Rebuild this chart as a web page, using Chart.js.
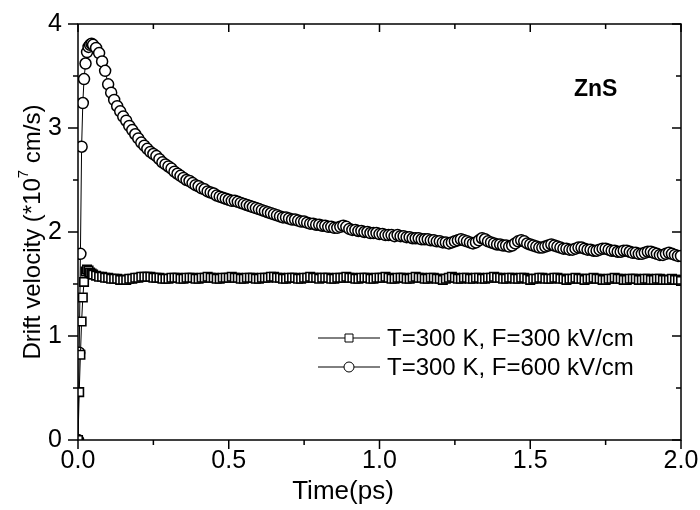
<!DOCTYPE html>
<html>
<head>
<meta charset="utf-8">
<script src="https://cdn.jsdelivr.net/npm/chart.js@4.4.1/dist/chart.umd.min.js"></script>
<style>
  html, body { margin: 0; padding: 0; background: #fff; }
  #chart { display: block; }
</style>
</head>
<body>
<canvas id="chart" width="700" height="510"></canvas>
<script>
// time axis (ps): fine steps during the rise, then 0.01 ps
const times = [0, 0.004, 0.008, 0.012, 0.016, 0.02, 0.025, 0.03, 0.035, 0.04, 0.045, 0.05,
  0.06, 0.07, 0.08, 0.09, 0.10, 0.11, 0.12, 0.13, 0.14, 0.15,
  0.16, 0.17, 0.18, 0.19, 0.20, 0.21, 0.22, 0.23, 0.24, 0.25,
  0.26, 0.27, 0.28, 0.29, 0.30, 0.31, 0.32, 0.33, 0.34, 0.35,
  0.36, 0.37, 0.38, 0.39, 0.40, 0.41, 0.42, 0.43, 0.44, 0.45,
  0.46, 0.47, 0.48, 0.49, 0.50, 0.51, 0.52, 0.53, 0.54, 0.55,
  0.56, 0.57, 0.58, 0.59, 0.60, 0.61, 0.62, 0.63, 0.64, 0.65,
  0.66, 0.67, 0.68, 0.69, 0.70, 0.71, 0.72, 0.73, 0.74, 0.75,
  0.76, 0.77, 0.78, 0.79, 0.80, 0.81, 0.82, 0.83, 0.84, 0.85,
  0.86, 0.87, 0.88, 0.89, 0.90, 0.91, 0.92, 0.93, 0.94, 0.95,
  0.96, 0.97, 0.98, 0.99, 1.00, 1.01, 1.02, 1.03, 1.04, 1.05,
  1.06, 1.07, 1.08, 1.09, 1.10, 1.11, 1.12, 1.13, 1.14, 1.15,
  1.16, 1.17, 1.18, 1.19, 1.20, 1.21, 1.22, 1.23, 1.24, 1.25,
  1.26, 1.27, 1.28, 1.29, 1.30, 1.31, 1.32, 1.33, 1.34, 1.35,
  1.36, 1.37, 1.38, 1.39, 1.40, 1.41, 1.42, 1.43, 1.44, 1.45,
  1.46, 1.47, 1.48, 1.49, 1.50, 1.51, 1.52, 1.53, 1.54, 1.55,
  1.56, 1.57, 1.58, 1.59, 1.60, 1.61, 1.62, 1.63, 1.64, 1.65,
  1.66, 1.67, 1.68, 1.69, 1.70, 1.71, 1.72, 1.73, 1.74, 1.75,
  1.76, 1.77, 1.78, 1.79, 1.80, 1.81, 1.82, 1.83, 1.84, 1.85,
  1.86, 1.87, 1.88, 1.89, 1.90, 1.91, 1.92, 1.93, 1.94, 1.95,
  1.96, 1.97, 1.98, 1.99, 2.00];

// T=300 K, F=300 kV/cm  (squares)
const v300 = [0.00, 0.46, 0.82, 1.14, 1.37, 1.52, 1.62, 1.64, 1.63, 1.61, 1.60, 1.59,
  1.58, 1.57, 1.57, 1.56, 1.56, 1.55, 1.55, 1.55, 1.54, 1.54,
  1.54, 1.55, 1.55, 1.56, 1.56, 1.57, 1.57, 1.57, 1.57, 1.56,
  1.56, 1.56, 1.55, 1.55, 1.55, 1.56, 1.56, 1.56, 1.55, 1.55,
  1.56, 1.56, 1.56, 1.55, 1.55, 1.56, 1.56, 1.57, 1.56, 1.56,
  1.55, 1.55, 1.56, 1.56, 1.56, 1.57, 1.56, 1.56, 1.55, 1.55,
  1.56, 1.56, 1.56, 1.55, 1.55, 1.56, 1.56, 1.56, 1.57, 1.57,
  1.56, 1.56, 1.55, 1.55, 1.56, 1.56, 1.56, 1.55, 1.55, 1.56,
  1.56, 1.57, 1.56, 1.56, 1.55, 1.56, 1.56, 1.56, 1.55, 1.55,
  1.56, 1.56, 1.56, 1.57, 1.56, 1.56, 1.55, 1.55, 1.56, 1.56,
  1.56, 1.55, 1.55, 1.56, 1.56, 1.56, 1.57, 1.56, 1.55, 1.55,
  1.56, 1.56, 1.56, 1.55, 1.55, 1.56, 1.57, 1.56, 1.56, 1.55,
  1.55, 1.56, 1.56, 1.55, 1.55, 1.54, 1.55, 1.56, 1.57, 1.56,
  1.55, 1.55, 1.56, 1.56, 1.55, 1.55, 1.56, 1.56, 1.55, 1.55,
  1.56, 1.56, 1.57, 1.56, 1.56, 1.55, 1.55, 1.56, 1.56, 1.55,
  1.55, 1.56, 1.56, 1.55, 1.54, 1.55, 1.55, 1.56, 1.56, 1.55,
  1.55, 1.55, 1.56, 1.56, 1.55, 1.55, 1.54, 1.55, 1.55, 1.56,
  1.55, 1.55, 1.54, 1.55, 1.55, 1.56, 1.55, 1.55, 1.54, 1.54,
  1.55, 1.55, 1.56, 1.55, 1.55, 1.54, 1.54, 1.55, 1.55, 1.55,
  1.54, 1.54, 1.55, 1.55, 1.54, 1.54, 1.55, 1.55, 1.54, 1.54,
  1.54, 1.55, 1.54, 1.54, 1.53];

// T=300 K, F=600 kV/cm  (circles)
const v600 = [0.00, 0.84, 1.79, 2.82, 3.24, 3.47, 3.62, 3.73, 3.78, 3.80, 3.81, 3.80,
  3.77, 3.72, 3.64, 3.55, 3.42, 3.34, 3.27, 3.21, 3.16, 3.11,
  3.07, 3.02, 2.98, 2.94, 2.90, 2.86, 2.83, 2.80, 2.77, 2.75,
  2.73, 2.70, 2.67, 2.65, 2.63, 2.61, 2.58, 2.56, 2.54, 2.52,
  2.50, 2.49, 2.47, 2.45, 2.44, 2.42, 2.41, 2.39, 2.38, 2.37,
  2.35, 2.34, 2.33, 2.32, 2.31, 2.30, 2.30, 2.29, 2.28, 2.27,
  2.26, 2.25, 2.24, 2.23, 2.22, 2.21, 2.20, 2.19, 2.18, 2.17,
  2.16, 2.15, 2.14, 2.14, 2.13, 2.12, 2.12, 2.11, 2.10, 2.10,
  2.09, 2.08, 2.08, 2.07, 2.07, 2.06, 2.06, 2.05, 2.05, 2.04,
  2.04, 2.05, 2.06, 2.05, 2.03, 2.02, 2.02, 2.01, 2.01, 2.00,
  2.00, 1.99, 1.99, 1.99, 1.98, 1.98, 1.97, 1.97, 1.97, 1.96,
  1.97, 1.96, 1.96, 1.95, 1.95, 1.94, 1.94, 1.94, 1.93, 1.93,
  1.93, 1.92, 1.92, 1.91, 1.91, 1.90, 1.90, 1.89, 1.90, 1.91,
  1.92, 1.93, 1.92, 1.91, 1.90, 1.89, 1.90, 1.92, 1.94, 1.93,
  1.91, 1.90, 1.89, 1.88, 1.88, 1.87, 1.87, 1.86, 1.87, 1.89,
  1.91, 1.92, 1.91, 1.89, 1.88, 1.87, 1.86, 1.85, 1.85, 1.86,
  1.87, 1.88, 1.87, 1.86, 1.85, 1.84, 1.84, 1.83, 1.83, 1.84,
  1.85, 1.85, 1.84, 1.83, 1.83, 1.82, 1.82, 1.83, 1.84, 1.84,
  1.83, 1.82, 1.82, 1.81, 1.81, 1.82, 1.82, 1.81, 1.80, 1.80,
  1.79, 1.79, 1.80, 1.81, 1.81, 1.80, 1.79, 1.78, 1.78, 1.79,
  1.80, 1.79, 1.78, 1.77, 1.77];

const seriesNames = ['T=300 K, F=300 kV/cm', 'T=300 K, F=600 kV/cm'];
const xTicks = [0, 0.5, 1.0, 1.5, 2.0];
const yTicks = [0, 1, 2, 3, 4];
const xMinorStep = 0.25;
const yMinorStep = 0.5;

const FONT = "'Liberation Sans', Arial, sans-serif";
// where the plot frame should sit in the 700x510 canvas
const AREA = { left: 78, top: 24, right: 681, bottom: 440 };

function toPoints(vals) {
  return times.map((t, i) => ({ x: t, y: vals[i] }));
}

// frame with outer ticks on bottom/left and inner ticks on top/right, plus texts
const framePlugin = {
  id: 'frame',
  afterDatasetsDraw(chart) {
    const { ctx, chartArea: a, scales } = chart;
    const xs = scales.x, ys = scales.y;
    ctx.save();
    ctx.strokeStyle = '#000';
    ctx.lineWidth = 1.5;
    ctx.strokeRect(a.left, a.top, a.right - a.left, a.bottom - a.top);
    ctx.beginPath();
    for (let v = xs.min; v <= xs.max + 1e-9; v += xMinorStep) {
      const px = xs.getPixelForValue(v);
      const major = xTicks.some(t => Math.abs(t - v) < 1e-6);
      ctx.moveTo(px, a.bottom); ctx.lineTo(px, a.bottom + (major ? 9 : 5));
      ctx.moveTo(px, a.top); ctx.lineTo(px, a.top + (major ? 8 : 5));
    }
    for (let v = ys.min; v <= ys.max + 1e-9; v += yMinorStep) {
      const py = ys.getPixelForValue(v);
      const major = yTicks.some(t => Math.abs(t - v) < 1e-6);
      ctx.moveTo(a.left, py); ctx.lineTo(a.left - (major ? 10 : 5), py);
      ctx.moveTo(a.right, py); ctx.lineTo(a.right - (major ? 9 : 5), py);
    }
    ctx.stroke();
    ctx.restore();
  },
  afterDraw(chart) {
    const { ctx, chartArea: a } = chart;
    ctx.save();
    ctx.fillStyle = '#000';
    ctx.strokeStyle = '#000';

    // y title with superscript
    const cy = (a.top + a.bottom) / 2;
    const big = '24px ' + FONT, small = '15px ' + FONT;
    const p1 = 'Drift velocity (*10', p2 = '7', p3 = ' cm/s)';
    ctx.font = big; const w1 = ctx.measureText(p1).width, w3 = ctx.measureText(p3).width;
    ctx.font = small; const w2 = ctx.measureText(p2).width;
    const total = w1 + w2 + w3;
    ctx.translate(33, cy);
    ctx.rotate(-Math.PI / 2);
    ctx.textBaseline = 'middle';
    ctx.textAlign = 'left';
    let x0 = -total / 2;
    ctx.font = big; ctx.fillText(p1, x0, 0); x0 += w1;
    ctx.font = small; ctx.fillText(p2, x0, -9); x0 += w2;
    ctx.font = big; ctx.fillText(p3, x0, 0);
    ctx.setTransform(1, 0, 0, 1, 0, 0);

    // x title (sits left of the axis centre in the original)
    ctx.font = '26px ' + FONT;
    ctx.textAlign = 'center';
    ctx.textBaseline = 'middle';
    ctx.fillText('Time(ps)', 343, 492);

    // ZnS label
    ctx.font = 'bold 23px ' + FONT;
    ctx.textAlign = 'left';
    ctx.fillText('ZnS', a.left + 496, a.top + 66);

    // legend
    const lx0 = a.left + 240, lx1 = a.left + 302, mx = a.left + 271;
    const rows = [a.top + 314, a.top + 343];
    ctx.lineWidth = 1;
    ctx.font = '24px ' + FONT;
    rows.forEach((ly, i) => {
      ctx.beginPath();
      ctx.moveTo(lx0, ly); ctx.lineTo(lx1, ly);
      ctx.stroke();
      ctx.fillStyle = '#fff';
      ctx.beginPath();
      if (i === 0) {
        ctx.rect(mx - 4, ly - 4, 8, 8);
      } else {
        ctx.arc(mx, ly, 5, 0, Math.PI * 2);
      }
      ctx.fill(); ctx.stroke();
      ctx.fillStyle = '#000';
      ctx.fillText(seriesNames[i], a.left + 309, ly + 1);
    });
    ctx.restore();
  }
};

const chart = new Chart(document.getElementById('chart'), {
  type: 'line',
  data: {
    datasets: [
      {
        label: seriesNames[0],
        data: toPoints(v300),
        borderColor: '#000',
        borderWidth: 1,
        pointStyle: 'rect',
        pointRadius: 6,
        pointBackgroundColor: '#fff',
        pointBorderColor: '#000',
        pointBorderWidth: 1.6
      },
      {
        label: seriesNames[1],
        data: toPoints(v600),
        borderColor: '#000',
        borderWidth: 1,
        pointStyle: 'circle',
        pointRadius: 5.5,
        pointBackgroundColor: '#fff',
        pointBorderColor: '#000',
        pointBorderWidth: 1.5
      }
    ]
  },
  options: {
    responsive: false,
    animation: false,
    devicePixelRatio: 1,
    layout: { padding: { left: 0, right: 700 - AREA.right, top: AREA.top, bottom: 0 } },
    plugins: { legend: { display: false }, tooltip: { enabled: false } },
    elements: { line: { tension: 0 } },
    scales: {
      x: {
        type: 'linear', min: 0, max: 2,
        grid: { display: false, drawTicks: false },
        border: { display: false },
        afterBuildTicks: s => { s.ticks = xTicks.map(v => ({ value: v })); },
        ticks: {
          color: '#000', font: { family: FONT, size: 25 }, padding: 6,
          maxRotation: 0, autoSkip: false,
          callback: v => v.toFixed(1)
        },
        afterFit: s => { s.height = 510 - AREA.bottom; s.paddingLeft = 0; s.paddingRight = 0; }
      },
      y: {
        type: 'linear', min: 0, max: 4,
        grid: { display: false, drawTicks: false },
        border: { display: false },
        afterBuildTicks: s => { s.ticks = yTicks.map(v => ({ value: v })); },
        ticks: {
          color: '#000', font: { family: FONT, size: 25 }, padding: 16,
          callback: v => String(v)
        },
        afterFit: s => { s.width = AREA.left; s.paddingTop = 0; s.paddingBottom = 0; }
      }
    }
  },
  plugins: [framePlugin]
});

// nudge the layout padding so the frame lands where the original has it
const ca = chart.chartArea;
const pad = chart.options.layout.padding;
pad.top += AREA.top - ca.top;
pad.right += ca.right - AREA.right;
chart.update();
</script>
</body>
</html>
